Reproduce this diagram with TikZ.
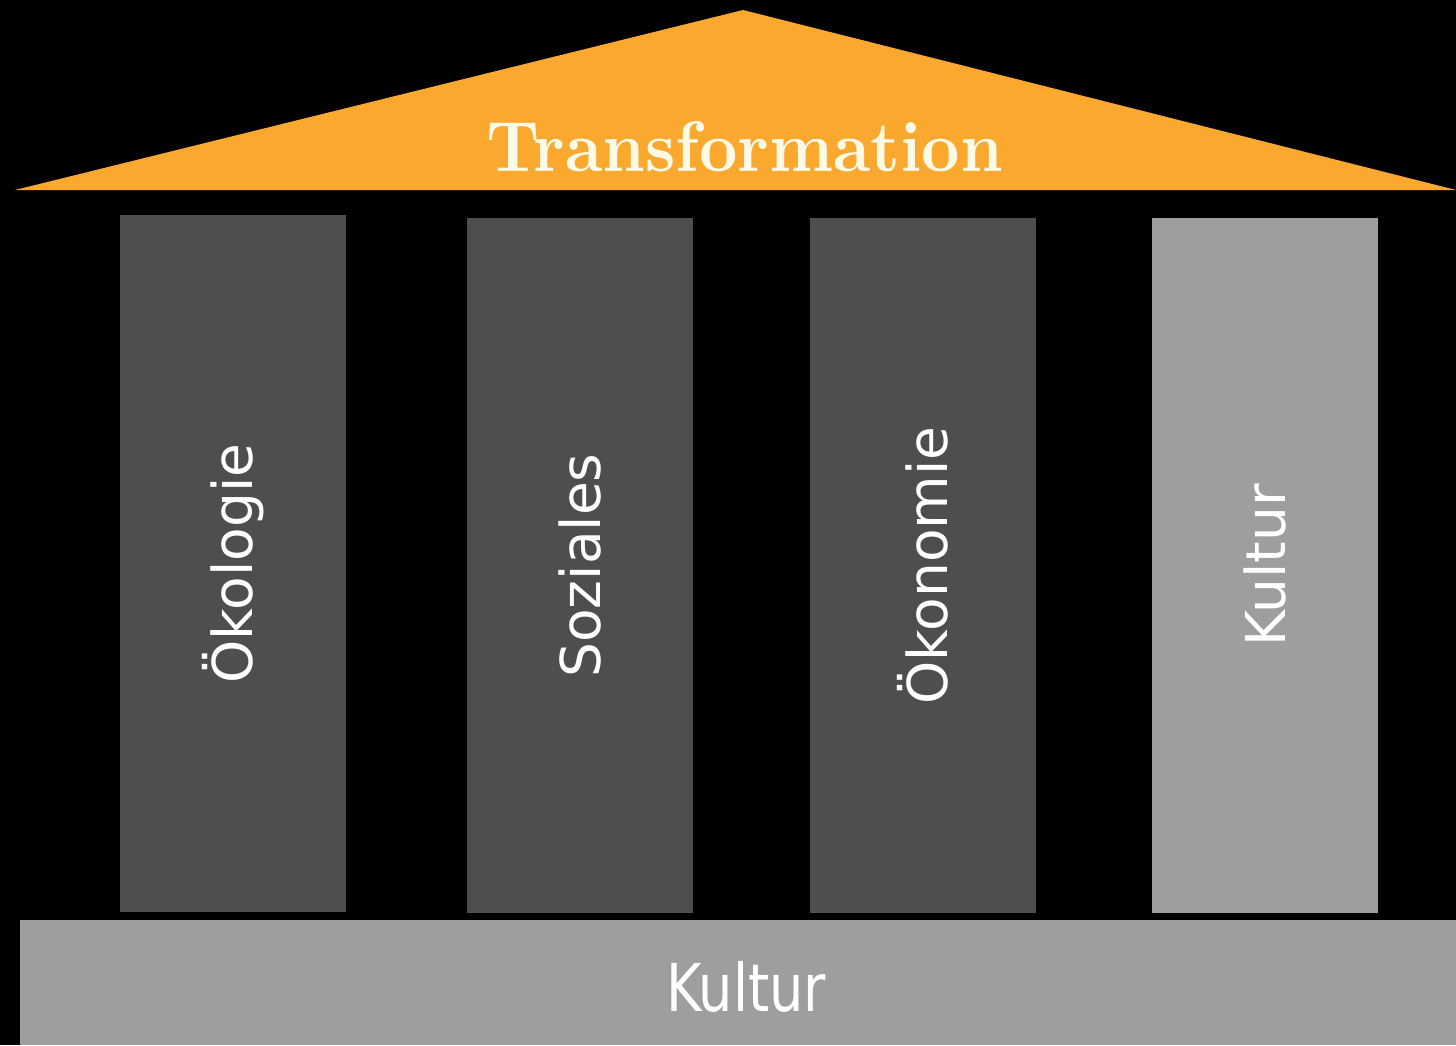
\documentclass[tikz,border=0pt]{standalone}
\usepackage{fontspec}
\setmainfont{DejaVu Sans}
\newfontfamily\titlefont{Latin Modern Roman}
\usetikzlibrary{positioning}
\definecolor{roofcol}{RGB}{250,168,46}
\definecolor{titlecol}{RGB}{255,250,230}
\definecolor{darkpillar}{RGB}{78,78,78}
\definecolor{lightpillar}{RGB}{158,158,158}
\definecolor{basecol}{RGB}{158,158,158}
\tikzset{
  pillar/.style={rotate=90, fill=#1, inner sep=0pt, minimum height=226pt,
    text=white, font=\fontsize{55}{60}\selectfont},
  plinth/.style={fill=basecol, inner sep=0pt, anchor=north west,
    minimum width=1436pt, minimum height=125pt},
  caption/.style={inner sep=0pt, text=white}
}
\begin{document}
\begin{tikzpicture}[x=1pt,y=-1pt]
  % canvas
  \fill[black] (0,0) rectangle (1456,1045);
  \useasboundingbox (0,0) rectangle (1456,1045);

  % roof
  \fill[roofcol] (15,190) -- (743,10) -- (1456,190) -- cycle;
  \node[caption, text=titlecol] (title) at (745,147)
    {\resizebox{516pt}{50pt}{\titlefont\bfseries Transformation}};

  % pillars (rotated, so width is the pillar's height)
  \node[pillar=darkpillar, minimum width=697pt] (oekologie) at (233,563.5) {Ökologie};
  \node[pillar=darkpillar, minimum width=695pt] (soziales) at (580,565.5) {Soziales};
  \node[pillar=darkpillar, minimum width=695pt] (oekonomie) at (923,565.5) {Ökonomie};
  \node[pillar=lightpillar, minimum width=695pt] (kultur) at (1265,565.5) {Kultur};

  % base
  \node[plinth] (base) at (20,920) {};
  \node[caption] (basetext) at (746,987)
    {\scalebox{0.82}[1]{\fontsize{66}{70}\selectfont Kultur}};
\end{tikzpicture}
\end{document}
